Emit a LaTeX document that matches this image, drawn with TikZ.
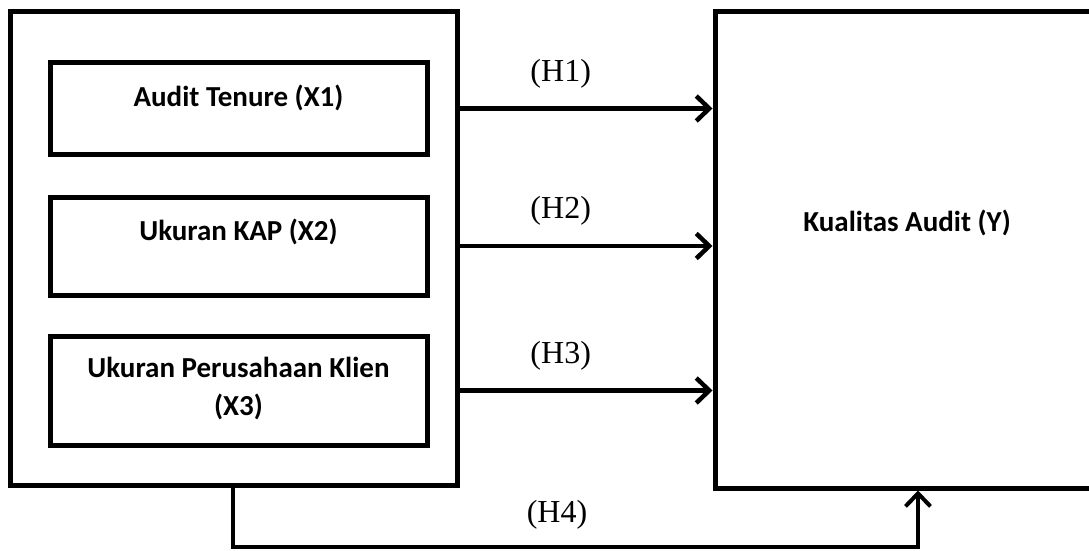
\documentclass[tikz,border=0pt]{standalone}
\usepackage{fontspec}
\setmainfont{Liberation Serif}
\newfontfamily\calibri{Carlito}
\usetikzlibrary{arrows.meta,positioning}
\tikzstyle{outerbox}=[draw,line width=5pt,inner sep=0pt]
\tikzstyle{varbox}=[draw,line width=5pt,minimum width=377pt,inner sep=0pt]
\tikzstyle{varname}=[font=\calibri\bfseries\fontsize{29}{38}\selectfont,align=center]
\tikzstyle{edge}=[draw,line width=4.5pt,-{Straight Barb[length=13pt,width=25pt]}]
\tikzstyle{hyp}=[font=\fontsize{32}{34}\selectfont]

\begin{document}
\begin{tikzpicture}[x=1pt,y=-1pt]

    \useasboundingbox (0,0) rectangle (1089,551);
    \clip (0,0) rectangle (1089,551);

    \node[outerbox, minimum width=447pt, minimum height=473pt] (indep) at (233.5,248.5) {};
    \node[outerbox, minimum width=380pt, minimum height=476pt] (dep) at (905,250) {};

    \foreach \y/\h/\name in {108.5/91/xone, 246/98/xtwo, 390.5/109/xthree}
        \node[varbox, minimum height=\h pt] (\name) at (238.5,\y) {};

    \node[varname] (tone) at (238.5,98) {Audit Tenure (X1)};
    \node[varname] (ttwo) at (238.5,232) {Ukuran KAP (X2)};
    \node[varname] (tthree) at (238.5,389) {Ukuran Perusahaan Klien\\(X3)};
    \node[varname] (ty) at (907,223) {Kualitas Audit (Y)};

    \foreach \source/\lbl in {xone/H1, xtwo/H2, xthree/H3}
        \path[edge] (\source -| indep.east) -- node[hyp, pos=0.4, yshift=35pt] (lab\lbl) {(\lbl)} (\source -| dep.west);

    \coordinate (hfoot) at (233,547);
    \coordinate (hend) at (918,547);
    \path[edge, line width=4pt] (indep.south -| hfoot) -- (hfoot)
        -- node[hyp, pos=0.473, yshift=32pt] (labH4) {(H4)} (hend) -- (dep.south -| hend);

\end{tikzpicture}
\end{document}
